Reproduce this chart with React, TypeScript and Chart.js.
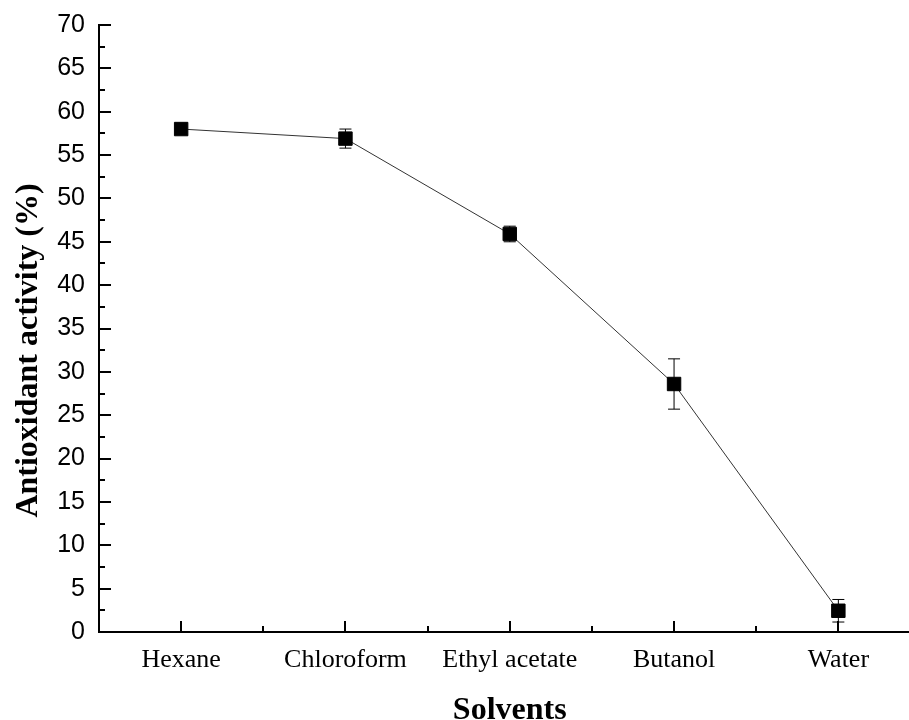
import React, { useEffect, useRef } from "react";
import { Chart, registerables } from "chart.js";

Chart.register(...registerables);

const solvents = ["Hexane", "Chloroform", "Ethyl acetate", "Butanol", "Water"];
const activity = [58.0, 56.9, 45.9, 28.6, 2.45];
const activityErr = [0.3, 1.1, 0.9, 2.9, 1.3];
const yTickValues = [0, 5, 10, 15, 20, 25, 30, 35, 40, 45, 50, 55, 60, 65, 70];
const xTitle = "Solvents";
const yTitle = "Antioxidant activity (%)";

const decorPlugin = {
  id: "decor",
  afterDatasetsDraw(chart: any) {
    const ctx = chart.ctx;
    const xs = chart.scales.x;
    const ys = chart.scales.y;
    const area = chart.chartArea;
    ctx.save();
    // error bars
    ctx.strokeStyle = "#000";
    ctx.lineWidth = 1;
    const cap = 6;
    activity.forEach((v, i) => {
      const e = activityErr[i];
      const px = xs.getPixelForValue(i);
      const top = ys.getPixelForValue(v + e);
      const bot = ys.getPixelForValue(v - e);
      ctx.beginPath();
      ctx.moveTo(px, top);
      ctx.lineTo(px, bot);
      ctx.moveTo(px - cap, top);
      ctx.lineTo(px + cap, top);
      ctx.moveTo(px - cap, bot);
      ctx.lineTo(px + cap, bot);
      ctx.stroke();
    });
    // inward ticks
    ctx.lineWidth = 2;
    const ymin = ys.min, ymax = ys.max;
    for (let v = ymin; v <= ymax + 1e-9; v += 2.5) {
      const major = Math.abs(v / 5 - Math.round(v / 5)) < 1e-6;
      const py = Math.round(ys.getPixelForValue(v));
      if (v === ymin) continue;
      ctx.beginPath();
      ctx.moveTo(area.left, py);
      ctx.lineTo(area.left + (major ? 12 : 6), py);
      ctx.stroke();
    }
    for (let i = 0; i < solvents.length; i++) {
      const px = Math.round(xs.getPixelForValue(i));
      ctx.beginPath();
      ctx.moveTo(px, area.bottom);
      ctx.lineTo(px, area.bottom - 11);
      ctx.stroke();
      const half = Math.round(xs.getPixelForValue(i + 0.5));
      ctx.beginPath();
      ctx.moveTo(half, area.bottom);
      ctx.lineTo(half, area.bottom - 6);
      ctx.stroke();
    }
    // axis titles
    ctx.fillStyle = "#000";
    ctx.font = "bold 32px 'Liberation Serif', 'Times New Roman', serif";
    ctx.textAlign = "center";
    ctx.textBaseline = "alphabetic";
    ctx.fillText(xTitle, (area.left + area.right) / 2, 719);
    ctx.translate(37, (area.top + area.bottom) / 2 + 22);
    ctx.rotate(-Math.PI / 2);
    ctx.fillText(yTitle, 0, 0);
    ctx.restore();
  },
};

export default function App() {
  const ref = useRef<HTMLCanvasElement | null>(null);
  useEffect(() => {
    if (!ref.current) return;
    const chart = new Chart(ref.current, {
      type: "line",
      data: {
        labels: solvents,
        datasets: [
          {
            data: activity,
            borderColor: "#333",
            borderWidth: 1,
            pointStyle: "rect",
            pointRadius: 9.5,
            pointBackgroundColor: "#000",
            pointBorderColor: "#000",
            pointBorderWidth: 1,
            tension: 0,
          },
        ],
      },
      options: {
        responsive: false,
        animation: false,
        layout: { padding: { top: 25, right: 2, left: 0, bottom: 0 } },
        plugins: { legend: { display: false }, tooltip: { enabled: false } },
        scales: {
          x: {
            type: "category",
            offset: true,
            grid: { display: false, drawTicks: false },
            border: { display: true, color: "#000", width: 2 },
            ticks: {
              color: "#000",
              padding: 13,
              font: { family: "'Liberation Serif', 'Times New Roman', serif", size: 26 },
            },
            afterFit(scale: any) {
              scale.height = 88;
              scale.paddingLeft = 0;
              scale.paddingRight = 0;
            },
          },
          y: {
            type: "linear",
            min: 0,
            max: 70,
            grid: { display: false, drawTicks: false },
            border: { display: true, color: "#000", width: 2 },
            afterBuildTicks(scale: any) {
              scale.ticks = yTickValues.map((v) => ({ value: v }));
            },
            ticks: {
              color: "#000",
              padding: 14,
              font: { family: "'Liberation Sans', Arial, sans-serif", size: 25 },
            },
            afterFit(scale: any) {
              scale.width = 99;
              scale.paddingTop = 0;
              scale.paddingBottom = 0;
            },
          },
        },
      },
      plugins: [decorPlugin],
    });
    return () => chart.destroy();
  }, []);
  return (
    <div
      style={{
        position: "fixed",
        left: 0,
        top: 0,
        width: 909,
        height: 720,
        overflow: "hidden",
        background: "#fff",
      }}
    >
      <canvas ref={ref} width={931} height={720} style={{ display: "block", width: 931, height: 720 }} />
    </div>
  );
}
